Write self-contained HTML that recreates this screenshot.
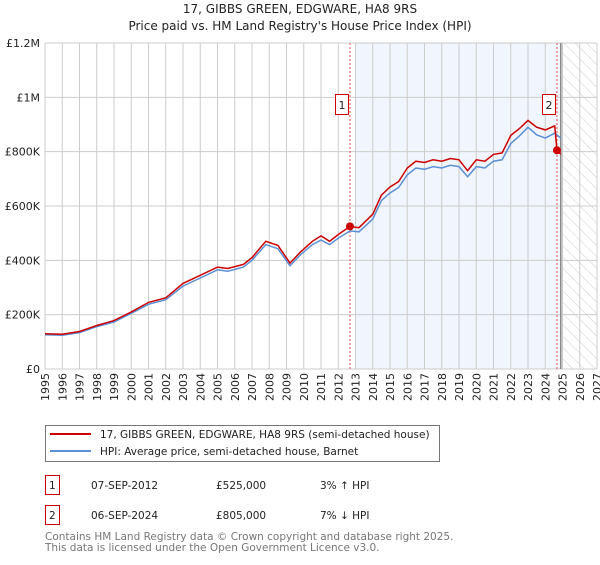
<!DOCTYPE html>
<html><head><meta charset="utf-8"><style>
body{margin:0;background:#fff;font-family:"Liberation Sans","DejaVu Sans",sans-serif;}
svg text{font-family:"DejaVu Sans","Liberation Sans",sans-serif;}
</style></head><body>
<svg width="600" height="560" xmlns="http://www.w3.org/2000/svg">
<defs><pattern id="hatch" width="8" height="8" patternUnits="userSpaceOnUse" patternTransform="rotate(-45)"><line x1="0" y1="0" x2="0" y2="8" stroke="#ccc" stroke-width="1"/></pattern></defs>
<text x="300" y="13" text-anchor="middle" font-size="12" fill="#222">17, GIBBS GREEN, EDGWARE, HA8 9RS</text>
<text x="300" y="30" text-anchor="middle" font-size="12" fill="#222">Price paid vs. HM Land Registry's House Price Index (HPI)</text>
<g id="plot"></g>
<rect x="45.5" y="425.5" width="394" height="36" fill="#fff" stroke="#777"/>
<line x1="50" y1="434" x2="91" y2="434" stroke="#cc0000" stroke-width="2"/>
<text x="100" y="438" font-size="10.5" fill="#222">17, GIBBS GREEN, EDGWARE, HA8 9RS (semi-detached house)</text>
<line x1="50" y1="451" x2="91" y2="451" stroke="#5b8fd6" stroke-width="2"/>
<text x="100" y="455" font-size="10.5" fill="#222">HPI: Average price, semi-detached house, Barnet</text>
<g font-size="10.5" fill="#222">
<rect x="45.5" y="475.5" width="14" height="19" fill="none" stroke="#cc0000"/>
<text x="49" y="489">1</text>
<text x="91" y="489">07-SEP-2012</text>
<text x="216" y="489">£525,000</text>
<text x="320" y="489">3% ↑ HPI</text>
<rect x="45.5" y="505.5" width="14" height="19" fill="none" stroke="#cc0000"/>
<text x="49" y="519">2</text>
<text x="91" y="519">06-SEP-2024</text>
<text x="216" y="519">£805,000</text>
<text x="320" y="519">7% ↓ HPI</text>
</g>
<text x="45" y="540" font-size="10.5" fill="#777">Contains HM Land Registry data © Crown copyright and database right 2025.</text>
<text x="45" y="551" font-size="10.5" fill="#777">This data is licensed under the Open Government Licence v3.0.</text>
</svg>
<script>
const years=[1995,1996,1997,1998,1999,2000,2001,2002,2003,2004,2005,2006,2007,2008,2009,2010,2011,2012,2013,2014,2015,2016,2017,2018,2019,2020,2021,2022,2023,2024,2025,2026,2027];
const yTicks=[0,200000,400000,600000,800000,1000000,1200000];
const yTickLabels=["£0","£200K","£400K","£600K","£800K","£1M","£1.2M"];
const priceT=[1995,1996,1997,1998,1999,2000,2001,2002,2003,2004,2005,2005.6,2006.5,2007,2007.8,2008.5,2009.2,2009.8,2010.5,2011,2011.5,2012,2012.68,2013.2,2014,2014.5,2015,2015.5,2016,2016.5,2017,2017.5,2018,2018.5,2019,2019.5,2020,2020.5,2021,2021.5,2022,2022.5,2023,2023.5,2024,2024.55,2024.68,2024.9];
const priceV=[130000,128000,138000,160000,178000,210000,245000,262000,315000,345000,375000,370000,385000,410000,470000,455000,390000,430000,470000,490000,470000,495000,525000,520000,570000,640000,670000,690000,740000,765000,760000,770000,765000,775000,770000,730000,770000,765000,790000,795000,860000,885000,915000,890000,880000,895000,805000,790000];
const hpiT=[1995,1996,1997,1998,1999,2000,2001,2002,2003,2004,2005,2005.6,2006.5,2007,2007.8,2008.5,2009.2,2009.8,2010.5,2011,2011.5,2012,2012.68,2013.2,2014,2014.5,2015,2015.5,2016,2016.5,2017,2017.5,2018,2018.5,2019,2019.5,2020,2020.5,2021,2021.5,2022,2022.5,2023,2023.5,2024,2024.55,2024.9];
const hpiV=[126000,124000,134000,156000,173000,205000,238000,255000,305000,335000,365000,360000,375000,400000,458000,443000,380000,420000,458000,475000,458000,482000,508000,505000,552000,620000,648000,668000,715000,740000,735000,745000,740000,750000,745000,708000,745000,740000,765000,770000,830000,858000,890000,862000,850000,868000,850000];
const sales=[[2012.68,525000,"1"],[2024.68,805000,"2"]];
const NS="http://www.w3.org/2000/svg";
const X0=45,X1=597,Y0=369,Y1=43;
const xs=t=>X0+(t-1995)/(2027-1995)*(X1-X0);
const ys=v=>Y0-v/1200000*(Y0-Y1);
const g=document.getElementById('plot');
function mk(tag,a){const e=document.createElementNS(NS,tag);for(const k in a)e.setAttribute(k,a[k]);g.appendChild(e);return e;}
let e;
e=mk('rect',{x:xs(2013),y:Y1,width:xs(2025)-xs(2013),height:Y0-Y1,fill:'#eef3fc',opacity:0.8});


e=mk('rect',{x:xs(2025),y:Y1,width:X1-xs(2025),height:Y0-Y1,fill:'url(#hatch)'});


years.forEach(y=>{e=mk('line',{x1:xs(y),x2:xs(y),y1:Y1,y2:Y0,stroke:'#ccc'});


e=mk('text',{x:0,y:0,transform:`translate(${xs(y)+4},${Y0+4}) rotate(-90)`,'text-anchor':'end','font-size':11,fill:'#222'});e.textContent=y;

});
yTicks.forEach((v,i)=>{e=mk('line',{x1:X0,x2:X1,y1:ys(v),y2:ys(v),stroke:'#ccc'});


e=mk('text',{x:X0-5,y:ys(v)+4,'text-anchor':'end','font-size':11,fill:'#222'});e.textContent=yTickLabels[i];

});
e=mk('line',{x1:xs(2024.9),x2:xs(2024.9),y1:Y1,y2:Y0,stroke:'#888','stroke-width':1.5});


sales.forEach(s=>{e=mk('line',{x1:xs(s[0]),x2:xs(s[0]),y1:Y1,y2:Y0,stroke:'#e05050','stroke-dasharray':'2,2'});

});
const path=(T,V)=>T.map((t,i)=>(i?'L':'M')+xs(t).toFixed(1)+','+ys(V[i]).toFixed(1)).join('');
e=mk('path',{d:path(hpiT,hpiV),fill:'none',stroke:'#5b8fd6','stroke-width':1.5});


e=mk('path',{d:path(priceT,priceV),fill:'none',stroke:'#cc0000','stroke-width':1.5});


sales.forEach(s=>{e=mk('circle',{cx:xs(s[0]),cy:ys(s[1]),r:4,fill:'#cc0000'});


e=mk('rect',{x:xs(s[0])-14.5,y:94.5,width:13,height:20,fill:'#fff',stroke:'#cc0000'});


e=mk('text',{x:xs(s[0])-8,y:109,'text-anchor':'middle','font-size':11,fill:'#222'});e.textContent=s[2];

});
</script>
</body></html>
